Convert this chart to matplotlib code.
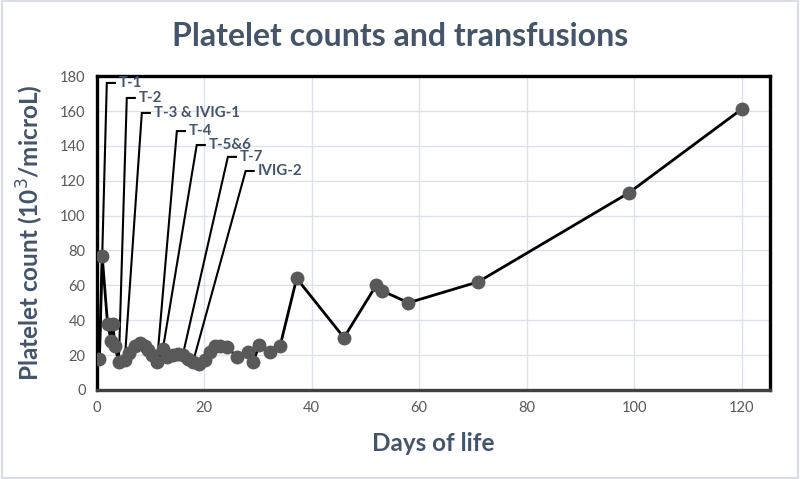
import matplotlib
matplotlib.use("Agg")
import matplotlib.pyplot as plt
from matplotlib.patches import Rectangle

# ---- data ----
days = [0.5, 1.0, 2.0, 2.7, 3.0, 3.35, 4.1, 5.2, 6.0, 7.1, 8.0, 8.9, 9.5, 10.2,
        11.2, 12.3, 13.0, 14.2, 15.1, 16.0, 16.9, 17.9, 19.0, 20.1, 21.0, 22.0,
        22.9, 24.2, 26.1, 28.1, 29.1, 30.2, 32.2, 34.1, 37.2, 46, 52, 53, 58,
        71, 99, 120]
platelets = [18, 77, 38, 28, 38, 25, 16, 17, 21, 25, 27, 25, 23, 20,
             16, 23.5, 19, 20, 20.5, 20, 18, 16, 15, 17, 22, 25,
             25, 24.5, 19, 22, 16, 25.5, 22, 25, 64, 30, 60, 57, 50,
             62, 113, 161]

labels = ["T-1", "T-2", "T-3 & IVIG-1", "T-4", "T-5&6", "T-7", "IVIG-2"]
label_point_day = [0.5, 4.1, 5.2, 11.2, 12.3, 16.0, 17.9]
label_point_val = [18, 16, 17, 16, 23.5, 20, 16]
# callout elbow positions (layout)
elbow_x = [1.86, 5.58, 8.38, 14.9, 18.6, 24.4, 27.7]
elbow_y = [176.1, 167.5, 158.9, 148.5, 140.5, 133.7, 125.6]
leader_len = 1.5

xticks = [0, 20, 40, 60, 80, 100, 120]
yticks = list(range(0, 181, 20))

title_color = "#44546A"
tick_color = "#595959"
font = ["Lato", "DejaVu Sans"]

fig = plt.figure(figsize=(8, 4.79), dpi=100)
fig.patch.set_facecolor("white")
# light outer frame
fig.patches.append(Rectangle((0.002, 0.002), 0.996, 0.996, transform=fig.transFigure,
                             fill=False, edgecolor="#D9DEE6", linewidth=1.5))

ax = fig.add_axes([0.121, 0.186, 0.8415, 0.655])
ax.set_xlim(0, 125.3)
ax.set_ylim(0, 180)
ax.set_xticks(xticks)
ax.set_yticks(yticks)
ax.grid(True, color="#DDE2EA", linewidth=1)
ax.set_axisbelow(True)
ax.tick_params(length=0, colors=tick_color, labelsize=10.5, pad=8)
for lab in ax.get_xticklabels() + ax.get_yticklabels():
    lab.set_family(font)
for side in ["top", "right", "left", "bottom"]:
    ax.spines[side].set_color("black")
    ax.spines[side].set_linewidth(2.4)
ax.spines["bottom"].set_color("#404040")

ax.plot(days, platelets, color="black", linewidth=2, marker="o",
        markersize=9, markerfacecolor="#595959", markeredgecolor="#595959",
        zorder=3)

for lab, px, py, ex, ey in zip(labels, label_point_day, label_point_val, elbow_x, elbow_y):
    ax.plot([px, ex, ex + leader_len], [py, ey, ey], color="black",
            linewidth=1.5, zorder=2, solid_joinstyle="miter")
    ax.text(ex + leader_len + 0.7, ey, lab, color=title_color, fontsize=10.8,
            fontweight="bold", va="center", ha="left", family=font, zorder=4)

fig.text(0.5, 0.924, "Platelet counts and transfusions", ha="center", va="center",
         fontsize=23, fontweight="bold", color=title_color, family=font)
ax.set_xlabel("Days of life", fontsize=17.5, fontweight="bold", color=title_color,
              family=font, labelpad=12)
ax.set_ylabel("Platelet count (10$^3$/microL)", fontsize=17.5, fontweight="bold",
              color=title_color, family=font, labelpad=10)

fig.savefig("out.png", dpi=100, facecolor="white")
